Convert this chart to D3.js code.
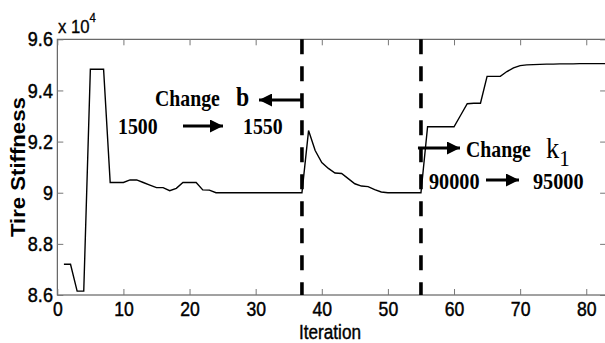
<!DOCTYPE html>
<html>
<head>
<meta charset="utf-8">
<script src="https://cdn.jsdelivr.net/npm/d3@7"></script>
<style>
  body { margin: 0; background: #fff; }
  svg { display: block; }
</style>
</head>
<body>
<div id="chart"></div>
<script>
// Tire stiffness per iteration (units of 1e4)
const iterations = d3.range(1, 84)
const stiffness = [
  8.72, 8.72, 8.615, 8.615, 9.483, 9.483, 9.483, 9.04, 9.04, 9.04,
  9.05, 9.05, 9.04, 9.03, 9.02, 9.02, 9.008, 9.017, 9.04, 9.04,
  9.04, 9.011, 9.01, 9.0, 9.0, 9.0, 9.0, 9.0, 9.0, 9.0,
  9.0, 9.0, 9.0, 9.0, 9.0, 9.0, 9.0, 9.243, 9.165, 9.118,
  9.095, 9.077, 9.075, 9.055, 9.035, 9.026, 9.024, 9.012, 9.003, 9.0,
  9.0, 9.0, 9.0, 9.0, 9.0, 9.258, 9.258, 9.258, 9.258, 9.258,
  9.303, 9.348, 9.35, 9.35, 9.455, 9.455, 9.455, 9.474, 9.488, 9.497,
  9.5, 9.501, 9.502, 9.503, 9.503, 9.504, 9.504, 9.504, 9.505, 9.505,
  9.505, 9.505, 9.505
]
const xTicks = [0, 10, 20, 30, 40, 50, 60, 70, 80]
const yTicks = [8.6, 8.8, 9.0, 9.2, 9.4, 9.6]
const changePoints = [37, 55]

const data = iterations.map((it, i) => ({ it, v: stiffness[i] }))

const width = 605, height = 343
const margin = { top: 39.3, right: -1.1, bottom: 48, left: 57.3 }
const innerW = width - margin.left - margin.right
const innerH = height - margin.top - margin.bottom

const x = d3.scaleLinear().domain([0, 83]).range([0, innerW])
const y = d3.scaleLinear().domain([8.6, 9.6]).range([innerH, 0])

const svg = d3.select('#chart')
  .append('svg')
  .attr('width', width)
  .attr('height', height)

const g = svg.append('g')
  .attr('transform', `translate(${margin.left},${margin.top})`)

const sansFont = "'Liberation Sans', Arial, sans-serif"
const serifFont = "'Liberation Serif', 'Times New Roman', serif"
const squeeze = 0.88 // the original figure is stretched vertically

// Box
g.append('rect')
  .attr('width', innerW)
  .attr('height', innerH)
  .attr('fill', 'none')
  .attr('stroke', '#444')
  .attr('stroke-width', 1)

// Bottom axis (ticks inward)
g.append('g')
  .attr('transform', `translate(0,${innerH})`)
  .call(d3.axisBottom(x).tickValues(xTicks).tickSizeInner(-6).tickSizeOuter(0).tickPadding(7))
  .call(a => a.select('.domain').remove())
  .call(a => a.selectAll('.tick line').attr('stroke', '#777'))
  .call(a => a.selectAll('.tick text')
    .attr('transform', `scale(${squeeze},1)`)
    .attr('font-family', sansFont)
    .attr('font-size', 20)
    .attr('fill', '#000')
    .attr('stroke', '#000')
    .attr('stroke-width', 0.45))

// Top ticks
g.append('g')
  .call(d3.axisTop(x).tickValues(xTicks).tickSizeInner(-6).tickSizeOuter(0).tickFormat(''))
  .call(a => a.select('.domain').remove())
  .call(a => a.selectAll('.tick line').attr('stroke', '#777'))

// Left axis
g.append('g')
  .call(d3.axisLeft(y).tickValues(yTicks).tickSizeInner(-6).tickSizeOuter(0).tickPadding(5)
    .tickFormat(d => d3.format('~g')(d)))
  .call(a => a.select('.domain').remove())
  .call(a => a.selectAll('.tick line').attr('stroke', '#777'))
  .call(a => a.selectAll('.tick text')
    .attr('transform', `scale(${squeeze},1)`)
    .attr('font-family', sansFont)
    .attr('font-size', 20.5)
    .attr('fill', '#000')
    .attr('stroke', '#000')
    .attr('stroke-width', 0.45))

// Right ticks
g.append('g')
  .attr('transform', `translate(${innerW},0)`)
  .call(d3.axisRight(y).tickValues(yTicks).tickSizeInner(-6).tickSizeOuter(0).tickFormat(''))
  .call(a => a.select('.domain').remove())
  .call(a => a.selectAll('.tick line').attr('stroke', '#777'))

// Exponent label
const expo = svg.append('text')
  .attr('transform', `translate(58,33) scale(${squeeze},1)`)
  .attr('font-family', sansFont)
  .attr('font-size', 19)
  .attr('fill', '#000')
  .attr('stroke', '#000')
  .attr('stroke-width', 0.3)
expo.append('tspan').text('x 10')
expo.append('tspan').attr('font-size', 13).attr('dy', -11).text('4')

// Axis titles
svg.append('text')
  .attr('transform', `translate(330,338.5) scale(${squeeze},1)`)
  .attr('text-anchor', 'middle')
  .attr('font-family', sansFont)
  .attr('font-size', 19.5)
  .attr('fill', '#000')
  .attr('stroke', '#000')
  .attr('stroke-width', 0.4)
  .text('Iteration')

svg.append('text')
  .attr('transform', `translate(25,${margin.top + innerH / 2}) rotate(-90) scale(${1 / squeeze},1)`)
  .attr('text-anchor', 'middle')
  .attr('font-family', sansFont)
  .attr('font-size', 19.5)
  .attr('font-weight', 'bold')
  .attr('fill', '#000')
  .text('Tire Stiffness')

// Clip for the series
svg.append('defs').append('clipPath').attr('id', 'clip')
  .append('rect').attr('width', innerW).attr('height', innerH)

// Stiffness line
const line = d3.line()
  .x(d => x(d.it))
  .y(d => y(d.v))

g.append('path')
  .datum(data)
  .attr('clip-path', 'url(#clip)')
  .attr('fill', 'none')
  .attr('stroke', '#000')
  .attr('stroke-width', 1.4)
  .attr('d', line)

// Dashed change markers
g.selectAll('.change')
  .data(changePoints)
  .enter()
  .append('line')
  .attr('class', 'change')
  .attr('x1', d => x(d))
  .attr('x2', d => x(d))
  .attr('y1', 0)
  .attr('y2', innerH)
  .attr('stroke', '#000')
  .attr('stroke-width', 3.6)
  .attr('stroke-dasharray', '15,12')

// Arrow marker
svg.select('defs').append('marker')
  .attr('id', 'head')
  .attr('viewBox', '0 0 10 10')
  .attr('refX', 10)
  .attr('refY', 5)
  .attr('markerUnits', 'userSpaceOnUse')
  .attr('markerWidth', 16)
  .attr('markerHeight', 13)
  .attr('orient', 'auto')
  .append('path')
  .attr('d', 'M0,0 L10,5 L0,10 Z')
  .attr('fill', '#000')

const arrow = (x1, y1, x2, y2) => {
  svg.append('line')
    .attr('x1', x1).attr('y1', y1)
    .attr('x2', x2).attr('y2', y2)
    .attr('stroke', '#000')
    .attr('stroke-width', 3)
    .attr('marker-end', 'url(#head)')
}

const label = (tx, ty, str, size, weight) => {
  return svg.append('text')
    .attr('transform', `translate(${tx},${ty}) scale(${squeeze},1)`)
    .attr('font-family', serifFont)
    .attr('font-size', size)
    .attr('font-weight', weight)
    .attr('fill', '#000')
    .text(str)
}

// First annotation: change b
const cx1 = margin.left + x(changePoints[0])
label(155, 106, 'Change', 22.5, 'bold')
label(236, 106, 'b', 27, 'bold')
arrow(cx1, 100, 259, 100)
label(118, 134, '1500', 22.5, 'bold')
arrow(183, 126, 223, 126)
label(243, 134, '1550', 22.5, 'bold')

// Second annotation: change k1
const cx2 = margin.left + x(changePoints[1])
arrow(cx2 - 3, 148, 460, 148)
label(466, 157, 'Change', 22.5, 'bold')
const k = label(546, 158, 'k', 30, 'normal')
k.append('tspan').attr('font-size', 24).attr('dy', 8).text('1')
label(429, 189, '90000', 23, 'bold')
arrow(486, 180, 519, 180)
label(533, 189, '95000', 23, 'bold')
</script>
</body>
</html>
